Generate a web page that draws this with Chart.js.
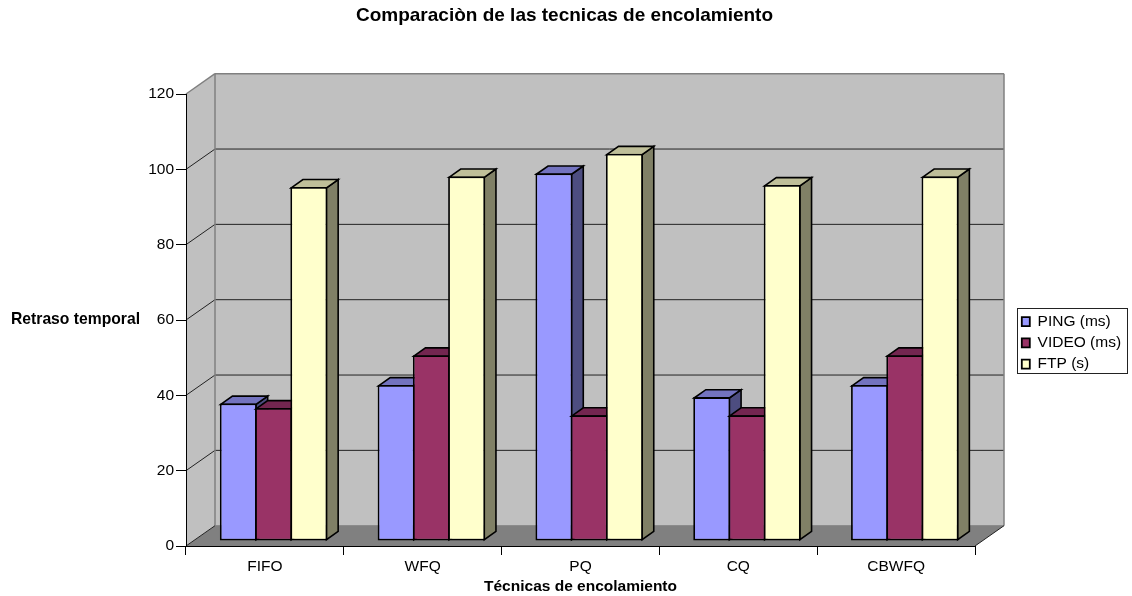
<!DOCTYPE html>
<html lang="es">
<head>
<meta charset="utf-8">
<title>Comparación de técnicas de encolamiento</title>
<script src="https://cdn.jsdelivr.net/npm/chart.js@4/dist/chart.umd.min.js"></script>
<style>
    html, body { margin: 0; padding: 0; background: #fff; }
    canvas { display: block; }
</style>
</head>
<body>
<canvas id="queueChart" width="1132" height="596"></canvas>
<script>
const categories = ["FIFO", "WFQ", "PQ", "CQ", "CBWFQ"];
const pingValues = [36.5, 41.4, 97.6, 38.2, 41.4];
const videoValues = [35.3, 49.3, 33.4, 33.4, 49.3];
const ftpValues = [94, 96.8, 102.8, 94.5, 96.8];
const seriesNames = ["PING (ms)", "VIDEO (ms)", "FTP (s)"];
const seriesColors = ["#9999ff", "#993366", "#ffffcc"];
const topColors = ["#7373bf", "#732650", "#bfbf99"];
const sideColors = ["#4d4d80", "#4d1a33", "#808066"];

const yLabel = "Retraso temporal";

// depth of the box, and how far the bars sit from its front and how deep they are
const wallDx = 29, wallDy = 20.3;
const barShiftX = 8.7, barShiftY = 5;
const barDepthX = 11.7, barDepthY = 8.3;
const barBorder = 1.8;

function poly(ctx, pts, fill, stroke, lineWidth) {
    ctx.beginPath();
    pts.forEach((p, i) => i ? ctx.lineTo(p[0], p[1]) : ctx.moveTo(p[0], p[1]));
    ctx.closePath();
    if (fill) {
        ctx.fillStyle = fill;
        ctx.fill();
    }
    if (stroke) {
        ctx.strokeStyle = stroke;
        ctx.lineWidth = lineWidth || 1;
        ctx.stroke();
    }
}

function line(ctx, x1, y1, x2, y2, color, lineWidth) {
    ctx.beginPath();
    ctx.moveTo(x1, y1);
    ctx.lineTo(x2, y2);
    ctx.strokeStyle = color;
    ctx.lineWidth = lineWidth || 1;
    ctx.stroke();
}

/* Walls, floor and the fake 3D faces of the bars */
const box3d = {
    id: "box3d",
    afterLayout(chart) {
        // title centred on the page, legend moved out beside the plot
        chart.titleBlock.right = 1129;
        const legend = chart.legend;
        const w = legend.width, h = legend.height;
        legend.left = 1016;
        legend.right = legend.left + w;
        legend.top = 308;
        legend.bottom = legend.top + h;
    },
    beforeDraw(chart) {
        const { ctx, chartArea: a, scales } = chart;
        const l = a.left, r = a.right, t = a.top, b = a.bottom;

        ctx.save();
        poly(ctx, [[l + wallDx, t - wallDy], [r + wallDx, t - wallDy], [r + wallDx, b - wallDy], [l + wallDx, b - wallDy]], "#c0c0c0");
        poly(ctx, [[l, t], [l + wallDx, t - wallDy], [l + wallDx, b - wallDy], [l, b]], "#c0c0c0");
        poly(ctx, [[l, b], [l + wallDx, b - wallDy], [r + wallDx, b - wallDy], [r, b]], "#808080");

        scales.y.ticks.forEach(tick => {
            const y = scales.y.getPixelForValue(tick.value);
            if (tick.value === 0 || tick.value === scales.y.max) return;
            line(ctx, l, y, l + wallDx, y - wallDy, "#222");
            line(ctx, l + wallDx, y - wallDy, r + wallDx, y - wallDy, "#222");
        });

        line(ctx, l + wallDx, t - wallDy, r + wallDx, t - wallDy, "#808080", 1.5);
        line(ctx, l + wallDx, t - wallDy, l + wallDx, b - wallDy, "#808080", 1.5);
        line(ctx, r + wallDx, t - wallDy, r + wallDx, b - wallDy, "#808080", 1.5);
        line(ctx, l, t, l + wallDx, t - wallDy, "#808080", 1.5);
        line(ctx, l + wallDx, b - wallDy, r + wallDx, b - wallDy, "#808080", 1);
        line(ctx, l, b, l + wallDx, b - wallDy, "#222");
        line(ctx, r, b, r + wallDx, b - wallDy, "#222");

        // legend frame
        ctx.fillStyle = "#fff";
        ctx.fillRect(1017.5, 308.5, 110, 65);
        ctx.strokeStyle = "#222";
        ctx.lineWidth = 1;
        ctx.strokeRect(1017.5, 308.5, 110, 65);

        ctx.fillStyle = "#000";
        ctx.textBaseline = "middle";
        ctx.textAlign = "left";
        ctx.font = "bold 15.7px 'Liberation Sans', Arial, sans-serif";
        ctx.fillText(yLabel, 11, 320);
        ctx.restore();
    },
    beforeDatasetsDraw(chart) {
        const ctx = chart.ctx;
        const inset = barBorder / 2;
        ctx.save();
        ctx.translate(barShiftX, -barShiftY);
        // first series first, so the later ones cover its side faces
        chart.data.datasets.forEach((ds, i) => {
            const meta = chart.getDatasetMeta(i);
            meta.data.forEach(bar => {
                const { x, y, base, width } = bar.getProps(["x", "y", "base", "width"], true);
                const left = x - width / 2 + inset, right = x + width / 2 - inset;
                const top = y + inset, bottom = base - inset;
                poly(ctx, [[right, top], [right + barDepthX, top - barDepthY], [right + barDepthX, bottom - barDepthY], [right, bottom]], sideColors[i], "#000", 1.6);
                poly(ctx, [[left, top], [left + barDepthX, top - barDepthY], [right + barDepthX, top - barDepthY], [right, top]], topColors[i], "#000", 1.6);
            });
            meta.controller.draw();
        });
        ctx.restore();
        return false;
    }
};

Chart.defaults.font.family = "'Liberation Sans', Arial, sans-serif";
Chart.defaults.font.size = 15.5;
Chart.defaults.color = "#000";

new Chart(document.getElementById("queueChart"), {
    type: "bar",
    data: {
        labels: categories,
        datasets: [pingValues, videoValues, ftpValues].map((values, i) => ({
            label: seriesNames[i],
            data: values,
            backgroundColor: seriesColors[i],
            borderColor: "#000",
            borderWidth: barBorder,
            borderSkipped: false,
            categoryPercentage: 0.67,
            // slight overlap so neighbouring bars share one border line
            barPercentage: 1.051
        }))
    },
    options: {
        responsive: false,
        animation: false,
        layout: { padding: { left: 0, right: 157, top: 0, bottom: 0 } },
        plugins: {
            title: {
                display: true,
                text: "Comparaciòn de las tecnicas de encolamiento",
                font: { size: 19, weight: "bold" },
                color: "#000",
                padding: { top: 4.4, bottom: 66.8 }
            },
            legend: {
                display: true,
                position: "chartArea",
                align: "start",
                labels: { boxWidth: 8, boxHeight: 9, padding: 5.8, color: "#000" }
            },
            tooltip: { enabled: false }
        },
        scales: {
            x: {
                afterFit(scale) { scale.height = 50; },
                grid: { drawOnChartArea: false, tickLength: 9, tickColor: "#000" },
                border: { color: "#000" },
                ticks: { padding: 2, color: "#000" },
                title: {
                    display: true,
                    text: "Técnicas de encolamiento",
                    font: { size: 15.5, weight: "bold" },
                    color: "#000",
                    padding: { top: 0, bottom: 0 }
                }
            },
            y: {
                min: 0,
                max: 120,
                afterFit(scale) { scale.width = 186; },
                grid: { drawOnChartArea: false, tickLength: 10, tickColor: "#000" },
                border: { color: "#000" },
                ticks: { stepSize: 20, padding: 2, color: "#000" }
            }
        }
    },
    plugins: [box3d]
});
</script>
</body>
</html>
